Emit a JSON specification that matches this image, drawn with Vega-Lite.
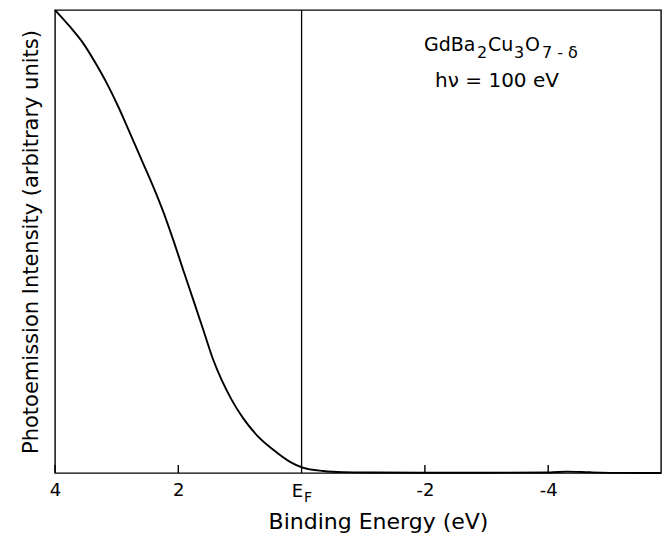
{
  "$schema": "https://vega.github.io/schema/vega-lite/v6.json",
  "width": 606,
  "height": 463,
  "autosize": {"type": "none"},
  "padding": {"left": 55, "top": 10, "right": 2, "bottom": 60},
  "background": "white",
  "config": {
    "font": "DejaVu Sans",
    "view": {"stroke": "black", "strokeWidth": 1.4},
    "axis": {"labelColor": "black", "titleColor": "black", "titleFontWeight": "normal", "grid": false}
  },
  "datasets": {
    "curve": [
      {"energy": 4.0, "intensity": 100},
      {"energy": 3.757, "intensity": 96.4},
      {"energy": 3.541, "intensity": 92.8},
      {"energy": 3.324, "intensity": 88.1},
      {"energy": 3.161, "intensity": 84.2},
      {"energy": 2.973, "intensity": 79.1},
      {"energy": 2.784, "intensity": 73.4},
      {"energy": 2.594, "intensity": 67.6},
      {"energy": 2.405, "intensity": 61.8},
      {"energy": 2.243, "intensity": 56.4},
      {"energy": 2.081, "intensity": 50.3},
      {"energy": 1.919, "intensity": 43.8},
      {"energy": 1.757, "intensity": 37.4},
      {"energy": 1.594, "intensity": 30.9},
      {"energy": 1.432, "intensity": 24.4},
      {"energy": 1.297, "intensity": 20.1},
      {"energy": 1.134, "intensity": 15.8},
      {"energy": 0.946, "intensity": 11.8},
      {"energy": 0.728, "intensity": 8.2},
      {"energy": 0.459, "intensity": 5.0},
      {"energy": 0.188, "intensity": 2.4},
      {"energy": -0.018, "intensity": 1.15},
      {"energy": -0.352, "intensity": 0.43},
      {"energy": -0.676, "intensity": 0.18},
      {"energy": -1.16, "intensity": 0.1},
      {"energy": -1.97, "intensity": 0.06},
      {"energy": -3.06, "intensity": 0.06},
      {"energy": -4.03, "intensity": 0.12},
      {"energy": -4.3, "intensity": 0.3},
      {"energy": -4.68, "intensity": 0.15},
      {"energy": -5.21, "intensity": 0.02},
      {"energy": -5.83, "intensity": 0.0}
    ],
    "formulaMain": [
      {"energy": -1.985, "intensity": 91.1, "text": "GdBa"},
      {"energy": -3.024, "intensity": 91.1, "text": "Cu"},
      {"energy": -3.624, "intensity": 91.1, "text": "O"}
    ],
    "formulaSub": [
      {"energy": -2.845, "intensity": 89.6, "text": "2"},
      {"energy": -3.445, "intensity": 89.6, "text": "3"},
      {"energy": -3.899, "intensity": 89.6, "text": "7 - δ"}
    ],
    "photon": [
      {"energy": -3.17, "intensity": 83.4, "text": "hν = 100 eV"}
    ],
    "fermiMain": [
      {"energy": 0.161, "intensity": -5.1, "text": "E"}
    ],
    "fermiSub": [
      {"energy": -0.039, "intensity": -6.3, "text": "F"}
    ],
    "fermiLine": [
      {"energy": 0, "intensity": 0, "top": 100}
    ],
    "ticks": [
      {"energy": 4, "intensity": 0, "top": 1.75},
      {"energy": 2, "intensity": 0, "top": 1.75},
      {"energy": -2, "intensity": 0, "top": 1.75},
      {"energy": -4, "intensity": 0, "top": 1.75}
    ]
  },
  "encoding": {
    "x": {
      "field": "energy",
      "type": "quantitative",
      "scale": {"domain": [-5.83, 4], "reverse": true, "nice": false, "zero": false},
      "axis": {
        "title": "Binding Energy (eV)",
        "titleFontSize": 22,
        "titleX": 323,
        "titleY": 55,
        "titleAlign": "center",
        "titleBaseline": "alphabetic",
        "values": [4, 2, 0, -2, -4],
        "labelExpr": "datum.value == 0 ? '' : '' + datum.value",
        "labelFontSize": 18,
        "labelFlush": false,
        "labelPadding": 8,
        "ticks": false,
        "domain": false
      }
    },
    "y": {
      "field": "intensity",
      "type": "quantitative",
      "scale": {"domain": [0, 100], "nice": false, "zero": false},
      "axis": {
        "title": "Photoemission Intensity (arbitrary units)",
        "titleFontSize": 21,
        "titlePadding": 14,
        "labels": false,
        "ticks": false,
        "domain": false
      }
    }
  },
  "layer": [
    {
      "data": {"name": "fermiLine"},
      "mark": {"type": "rule", "color": "black", "strokeWidth": 1.3},
      "encoding": {"y2": {"field": "top"}}
    },
    {
      "data": {"name": "ticks"},
      "mark": {"type": "rule", "color": "black", "strokeWidth": 1.4},
      "encoding": {"y2": {"field": "top"}}
    },
    {
      "data": {"name": "curve"},
      "mark": {"type": "line", "color": "black", "strokeWidth": 1.9, "interpolate": "monotone"}
    },
    {
      "data": {"name": "formulaMain"},
      "mark": {"type": "text", "align": "left", "baseline": "alphabetic", "fontSize": 19, "color": "black"},
      "encoding": {"text": {"field": "text"}}
    },
    {
      "data": {"name": "formulaSub"},
      "mark": {"type": "text", "align": "left", "baseline": "alphabetic", "fontSize": 16, "color": "black"},
      "encoding": {"text": {"field": "text"}}
    },
    {
      "data": {"name": "photon"},
      "mark": {"type": "text", "align": "center", "baseline": "alphabetic", "fontSize": 20, "color": "black"},
      "encoding": {"text": {"field": "text"}}
    },
    {
      "data": {"name": "fermiMain"},
      "mark": {"type": "text", "align": "left", "baseline": "alphabetic", "fontSize": 18, "color": "black"},
      "encoding": {"text": {"field": "text"}}
    },
    {
      "data": {"name": "fermiSub"},
      "mark": {"type": "text", "align": "left", "baseline": "alphabetic", "fontSize": 14, "color": "black"},
      "encoding": {"text": {"field": "text"}}
    }
  ]
}
